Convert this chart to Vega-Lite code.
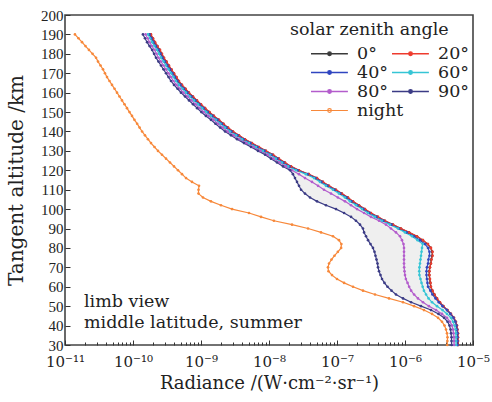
{
  "$schema": "https://vega.github.io/schema/vega-lite/v6.json",
  "width": 408,
  "height": 330,
  "autosize": {"type": "none"},
  "padding": {"left": 65, "top": 15, "right": 19, "bottom": 57},
  "background": "white",
  "config": {
    "view": {"stroke": "#444", "strokeWidth": 1.6},
    "axis": {"grid": false, "domain": false, "tickColor": "#333", "labelColor": "#222", "titleColor": "#222", "labelFont": "Liberation Serif", "labelFontSize": 15, "titleFont": "DejaVu Serif", "titleFontWeight": "normal"},
    "text": {"font": "DejaVu Serif"}
  },
  "data": {"values": [
    {"alt":190,"z0":1.82e-10,"z20":1.84e-10,"z40":1.75e-10,"z60":1.66e-10,"z80":1.53e-10,"z90":1.40e-10,"night":1.40e-11},
    {"alt":188,"z0":1.95e-10,"z20":1.97e-10,"z40":1.87e-10,"z60":1.78e-10,"z80":1.64e-10,"z90":1.50e-10,"night":1.58e-11},
    {"alt":186,"z0":2.09e-10,"z20":2.11e-10,"z40":2.00e-10,"z60":1.91e-10,"z80":1.75e-10,"z90":1.61e-10,"night":1.78e-11},
    {"alt":184,"z0":2.27e-10,"z20":2.29e-10,"z40":2.18e-10,"z60":2.07e-10,"z80":1.90e-10,"z90":1.75e-10,"night":2.00e-11},
    {"alt":182,"z0":2.47e-10,"z20":2.50e-10,"z40":2.38e-10,"z60":2.26e-10,"z80":2.08e-10,"z90":1.91e-10,"night":2.25e-11},
    {"alt":180,"z0":2.64e-10,"z20":2.67e-10,"z40":2.54e-10,"z60":2.41e-10,"z80":2.22e-10,"z90":2.04e-10,"night":2.54e-11},
    {"alt":178,"z0":2.83e-10,"z20":2.86e-10,"z40":2.72e-10,"z60":2.58e-10,"z80":2.37e-10,"z90":2.18e-10,"night":2.86e-11},
    {"alt":176,"z0":3.08e-10,"z20":3.11e-10,"z40":2.95e-10,"z60":2.81e-10,"z80":2.58e-10,"z90":2.37e-10,"night":3.06e-11},
    {"alt":174,"z0":3.35e-10,"z20":3.38e-10,"z40":3.21e-10,"z60":3.05e-10,"z80":2.81e-10,"z90":2.58e-10,"night":3.33e-11},
    {"alt":172,"z0":3.64e-10,"z20":3.68e-10,"z40":3.50e-10,"z60":3.32e-10,"z80":3.05e-10,"z90":2.81e-10,"night":3.62e-11},
    {"alt":170,"z0":3.97e-10,"z20":4.01e-10,"z40":3.81e-10,"z60":3.62e-10,"z80":3.33e-10,"z90":3.06e-10,"night":3.87e-11},
    {"alt":168,"z0":4.32e-10,"z20":4.36e-10,"z40":4.14e-10,"z60":3.94e-10,"z80":3.62e-10,"z90":3.33e-10,"night":4.15e-11},
    {"alt":166,"z0":4.70e-10,"z20":4.75e-10,"z40":4.51e-10,"z60":4.29e-10,"z80":3.94e-10,"z90":3.62e-10,"night":4.51e-11},
    {"alt":164,"z0":5.21e-10,"z20":5.26e-10,"z40":5.00e-10,"z60":4.75e-10,"z80":4.37e-10,"z90":4.01e-10,"night":4.91e-11},
    {"alt":162,"z0":5.86e-10,"z20":5.92e-10,"z40":5.62e-10,"z60":5.35e-10,"z80":4.91e-10,"z90":4.52e-10,"night":5.35e-11},
    {"alt":160,"z0":6.59e-10,"z20":6.66e-10,"z40":6.33e-10,"z60":6.01e-10,"z80":5.53e-10,"z90":5.08e-10,"night":5.82e-11},
    {"alt":158,"z0":7.55e-10,"z20":7.63e-10,"z40":7.25e-10,"z60":6.89e-10,"z80":6.33e-10,"z90":5.82e-10,"night":6.33e-11},
    {"alt":156,"z0":8.64e-10,"z20":8.73e-10,"z40":8.29e-10,"z60":7.88e-10,"z80":7.25e-10,"z90":6.66e-10,"night":6.89e-11},
    {"alt":154,"z0":9.90e-10,"z20":1.00e-9,"z40":9.50e-10,"z60":9.03e-10,"z80":8.30e-10,"z90":7.63e-10,"night":7.50e-11},
    {"alt":152,"z0":1.14e-9,"z20":1.15e-9,"z40":1.09e-9,"z60":1.04e-9,"z80":9.55e-10,"z90":8.77e-10,"night":8.16e-11},
    {"alt":150,"z0":1.32e-9,"z20":1.33e-9,"z40":1.26e-9,"z60":1.20e-9,"z80":1.10e-9,"z90":1.01e-9,"night":8.88e-11},
    {"alt":148,"z0":1.53e-9,"z20":1.55e-9,"z40":1.47e-9,"z60":1.40e-9,"z80":1.29e-9,"z90":1.18e-9,"night":9.67e-11},
    {"alt":146,"z0":1.82e-9,"z20":1.84e-9,"z40":1.75e-9,"z60":1.66e-9,"z80":1.53e-9,"z90":1.40e-9,"night":1.05e-10},
    {"alt":144,"z0":2.12e-9,"z20":2.14e-9,"z40":2.03e-9,"z60":1.93e-9,"z80":1.78e-9,"z90":1.63e-9,"night":1.15e-10},
    {"alt":142,"z0":2.47e-9,"z20":2.50e-9,"z40":2.38e-9,"z60":2.26e-9,"z80":2.08e-9,"z90":1.91e-9,"night":1.25e-10},
    {"alt":140,"z0":2.93e-9,"z20":2.96e-9,"z40":2.81e-9,"z60":2.67e-9,"z80":2.46e-9,"z90":2.26e-9,"night":1.36e-10},
    {"alt":138,"z0":3.58e-9,"z20":3.62e-9,"z40":3.44e-9,"z60":3.27e-9,"z80":3.00e-9,"z90":2.76e-9,"night":1.50e-10},
    {"alt":136,"z0":4.40e-9,"z20":4.44e-9,"z40":4.22e-9,"z60":4.01e-9,"z80":3.69e-9,"z90":3.39e-9,"night":1.66e-10},
    {"alt":134,"z0":5.56e-9,"z20":5.62e-9,"z40":5.34e-9,"z60":5.07e-9,"z80":4.66e-9,"z90":4.29e-9,"night":1.84e-10},
    {"alt":132,"z0":7.06e-9,"z20":7.13e-9,"z40":6.77e-9,"z60":6.44e-9,"z80":5.92e-9,"z90":5.44e-9,"night":2.07e-10},
    {"alt":130,"z0":8.94e-9,"z20":9.03e-9,"z40":8.58e-9,"z60":8.15e-9,"z80":7.49e-9,"z90":6.89e-9,"night":2.33e-10},
    {"alt":128,"z0":1.14e-8,"z20":1.15e-8,"z40":1.09e-8,"z60":1.04e-8,"z80":9.55e-9,"z90":8.77e-9,"night":2.67e-10},
    {"alt":126,"z0":1.39e-8,"z20":1.40e-8,"z40":1.33e-8,"z60":1.26e-8,"z80":1.16e-8,"z90":1.07e-8,"night":3.06e-10},
    {"alt":124,"z0":1.70e-8,"z20":1.72e-8,"z40":1.63e-8,"z60":1.55e-8,"z80":1.43e-8,"z90":1.31e-8,"night":3.50e-10},
    {"alt":122,"z0":2.09e-8,"z20":2.11e-8,"z40":2.00e-8,"z60":1.91e-8,"z80":1.78e-8,"z90":1.61e-8,"night":4.01e-10},
    {"alt":120,"z0":2.73e-8,"z20":2.76e-8,"z40":2.62e-8,"z60":2.49e-8,"z80":2.18e-8,"z90":2.04e-8,"night":4.59e-10},
    {"alt":118,"z0":3.83e-8,"z20":3.87e-8,"z40":3.68e-8,"z60":3.49e-8,"z80":2.76e-8,"z90":2.25e-8,"night":5.26e-10},
    {"alt":116,"z0":5.03e-8,"z20":5.08e-8,"z40":4.83e-8,"z60":4.59e-8,"z80":3.38e-8,"z90":2.41e-8,"night":6.02e-10},
    {"alt":114,"z0":6.16e-8,"z20":6.22e-8,"z40":5.91e-8,"z60":5.62e-8,"z80":4.29e-8,"z90":2.58e-8,"night":7.37e-10},
    {"alt":112,"z0":7.55e-8,"z20":7.63e-8,"z40":7.25e-8,"z60":6.89e-8,"z80":5.26e-8,"z90":2.76e-8,"night":9.35e-10},
    {"alt":110,"z0":9.57e-8,"z20":9.67e-8,"z40":9.19e-8,"z60":8.73e-8,"z80":6.44e-8,"z90":2.96e-8,"night":9.19e-10},
    {"alt":108,"z0":1.17e-7,"z20":1.18e-7,"z40":1.12e-7,"z60":1.07e-7,"z80":8.16e-8,"z90":3.38e-8,"night":9.19e-10},
    {"alt":106,"z0":1.44e-7,"z20":1.45e-7,"z40":1.38e-7,"z60":1.31e-7,"z80":1.03e-7,"z90":4.01e-8,"night":1.07e-9},
    {"alt":104,"z0":1.70e-7,"z20":1.72e-7,"z40":1.63e-7,"z60":1.55e-7,"z80":1.31e-7,"z90":5.08e-8,"night":1.40e-9},
    {"alt":102,"z0":2.09e-7,"z20":2.11e-7,"z40":2.00e-7,"z60":1.91e-7,"z80":1.61e-7,"z90":6.89e-8,"night":1.97e-9},
    {"alt":100,"z0":2.55e-7,"z20":2.58e-7,"z40":2.45e-7,"z60":2.33e-7,"z80":1.97e-7,"z90":9.67e-8,"night":2.86e-9},
    {"alt":98,"z0":3.13e-7,"z20":3.16e-7,"z40":3.00e-7,"z60":2.85e-7,"z80":2.50e-7,"z90":1.27e-7,"night":5.08e-9},
    {"alt":96,"z0":3.97e-7,"z20":4.01e-7,"z40":3.81e-7,"z60":3.62e-7,"z80":3.16e-7,"z90":1.61e-7,"night":7.63e-9},
    {"alt":94,"z0":5.03e-7,"z20":5.08e-7,"z40":4.83e-7,"z60":4.59e-7,"z80":4.15e-7,"z90":1.90e-7,"night":1.18e-8},
    {"alt":92,"z0":6.59e-7,"z20":6.66e-7,"z40":6.33e-7,"z60":6.01e-7,"z80":5.26e-7,"z90":2.18e-7,"night":2.18e-8},
    {"alt":90,"z0":8.64e-7,"z20":8.73e-7,"z40":8.12e-7,"z60":7.88e-7,"z80":6.22e-7,"z90":2.41e-7,"night":3.75e-8},
    {"alt":88,"z0":1.14e-6,"z20":1.15e-6,"z40":1.06e-6,"z60":1.00e-6,"z80":7.37e-7,"z90":2.50e-7,"night":5.82e-8},
    {"alt":86,"z0":1.49e-6,"z20":1.50e-6,"z40":1.35e-6,"z60":1.27e-6,"z80":8.44e-7,"z90":2.67e-7,"night":8.73e-8},
    {"alt":84,"z0":1.82e-6,"z20":1.84e-6,"z40":1.66e-6,"z60":1.53e-6,"z80":9.03e-7,"z90":2.86e-7,"night":1.07e-7},
    {"alt":82,"z0":2.16e-6,"z20":2.18e-6,"z40":1.97e-6,"z60":1.82e-6,"z80":9.51e-7,"z90":3.11e-7,"night":1.16e-7},
    {"alt":80,"z0":2.39e-6,"z20":2.41e-6,"z40":2.18e-6,"z60":1.78e-6,"z80":9.67e-7,"z90":3.38e-7,"night":1.15e-7},
    {"alt":78,"z0":2.51e-6,"z20":2.54e-6,"z40":2.29e-6,"z60":1.75e-6,"z80":9.67e-7,"z90":3.56e-7,"night":1.03e-7},
    {"alt":76,"z0":2.51e-6,"z20":2.54e-6,"z40":2.29e-6,"z60":1.72e-6,"z80":9.67e-7,"z90":3.68e-7,"night":9.19e-8},
    {"alt":74,"z0":2.43e-6,"z20":2.45e-6,"z40":2.21e-6,"z60":1.69e-6,"z80":9.67e-7,"z90":3.81e-7,"night":8.30e-8},
    {"alt":72,"z0":2.39e-6,"z20":2.41e-6,"z40":2.18e-6,"z60":1.66e-6,"z80":9.67e-7,"z90":3.94e-7,"night":7.63e-8},
    {"alt":70,"z0":2.31e-6,"z20":2.33e-6,"z40":2.10e-6,"z60":1.63e-6,"z80":9.72e-7,"z90":4.01e-7,"night":7.37e-8},
    {"alt":68,"z0":2.27e-6,"z20":2.29e-6,"z40":2.07e-6,"z60":1.62e-6,"z80":9.83e-7,"z90":4.15e-7,"night":7.50e-8},
    {"alt":66,"z0":2.27e-6,"z20":2.29e-6,"z40":2.07e-6,"z60":1.63e-6,"z80":1.00e-6,"z90":4.36e-7,"night":8.44e-8},
    {"alt":64,"z0":2.31e-6,"z20":2.33e-6,"z40":2.10e-6,"z60":1.69e-6,"z80":1.03e-6,"z90":4.59e-7,"night":1.00e-7},
    {"alt":62,"z0":2.35e-6,"z20":2.37e-6,"z40":2.14e-6,"z60":1.75e-6,"z80":1.09e-6,"z90":4.99e-7,"night":1.27e-7},
    {"alt":60,"z0":2.39e-6,"z20":2.41e-6,"z40":2.18e-6,"z60":1.82e-6,"z80":1.15e-6,"z90":5.53e-7,"night":1.72e-7},
    {"alt":58,"z0":2.51e-6,"z20":2.54e-6,"z40":2.36e-6,"z60":1.90e-6,"z80":1.23e-6,"z90":6.33e-7,"night":2.41e-7},
    {"alt":56,"z0":2.69e-6,"z20":2.72e-6,"z40":2.53e-6,"z60":2.04e-6,"z80":1.36e-6,"z90":7.37e-7,"night":3.62e-7},
    {"alt":54,"z0":2.93e-6,"z20":2.96e-6,"z40":2.81e-6,"z60":2.22e-6,"z80":1.55e-6,"z90":9.35e-7,"night":5.82e-7},
    {"alt":52,"z0":3.24e-6,"z20":3.27e-6,"z40":3.14e-6,"z60":2.50e-6,"z80":1.84e-6,"z90":1.23e-6,"night":9.35e-7},
    {"alt":50,"z0":3.64e-6,"z20":3.68e-6,"z40":3.57e-6,"z60":2.96e-6,"z80":2.25e-6,"z90":1.72e-6,"night":1.36e-6},
    {"alt":48,"z0":4.18e-6,"z20":4.22e-6,"z40":4.14e-6,"z60":3.56e-6,"z80":2.86e-6,"z90":2.41e-6,"night":1.90e-6},
    {"alt":46,"z0":4.70e-6,"z20":4.75e-6,"z40":4.67e-6,"z60":4.15e-6,"z80":3.50e-6,"z90":3.11e-6,"night":2.50e-6},
    {"alt":44,"z0":5.21e-6,"z20":5.26e-6,"z40":5.17e-6,"z60":4.75e-6,"z80":4.15e-6,"z90":3.75e-6,"night":3.06e-6},
    {"alt":42,"z0":5.56e-6,"z20":5.62e-6,"z40":5.52e-6,"z60":5.08e-6,"z80":4.59e-6,"z90":4.22e-6,"night":3.50e-6},
    {"alt":40,"z0":5.76e-6,"z20":5.82e-6,"z40":5.72e-6,"z60":5.35e-6,"z80":4.91e-6,"z90":4.51e-6,"night":3.81e-6},
    {"alt":38,"z0":5.86e-6,"z20":5.92e-6,"z40":5.82e-6,"z60":5.53e-6,"z80":5.08e-6,"z90":4.67e-6,"night":4.01e-6},
    {"alt":36,"z0":5.96e-6,"z20":6.02e-6,"z40":5.92e-6,"z60":5.62e-6,"z80":5.17e-6,"z90":4.75e-6,"night":4.15e-6},
    {"alt":34,"z0":5.96e-6,"z20":6.02e-6,"z40":5.92e-6,"z60":5.62e-6,"z80":5.26e-6,"z90":4.83e-6,"night":4.22e-6},
    {"alt":32,"z0":5.98e-6,"z20":6.04e-6,"z40":5.94e-6,"z60":5.64e-6,"z80":5.26e-6,"z90":4.83e-6,"night":4.20e-6},
    {"alt":30,"z0":5.98e-6,"z20":6.04e-6,"z40":5.94e-6,"z60":5.64e-6,"z80":5.28e-6,"z90":4.85e-6,"night":4.18e-6}
  ]},
  "encoding": {
    "y": {
      "field": "alt", "type": "quantitative",
      "scale": {"domain": [30, 200], "nice": false, "zero": false},
      "axis": {
        "title": "Tangent altitude /km", "titleFontSize": 20, "titlePadding": 14,
        "values": [30,40,50,60,70,80,90,100,110,120,130,140,150,160,170,180,190,200],
        "tickSize": -5, "labelPadding": 7, "labelOverlap": false, "labelFlush": false
      }
    }
  },
  "layer": [
    {
      "transform": [{"filter": "datum.alt <= 120"}],
      "mark": {"type": "area", "orient": "horizontal", "color": "#efefef", "opacity": 1},
      "encoding": {
        "x": {
          "field": "z90", "type": "quantitative",
          "scale": {"type": "log", "domain": [1e-11, 1e-5], "nice": false},
          "axis": {
            "orient": "bottom", "title": null, "labels": false, "tickSize": -3,
            "values": [2e-11,3e-11,4e-11,5e-11,6e-11,7e-11,8e-11,9e-11,2e-10,3e-10,4e-10,5e-10,6e-10,7e-10,8e-10,9e-10,2e-9,3e-9,4e-9,5e-9,6e-9,7e-9,8e-9,9e-9,2e-8,3e-8,4e-8,5e-8,6e-8,7e-8,8e-8,9e-8,2e-7,3e-7,4e-7,5e-7,6e-7,7e-7,8e-7,9e-7,2e-6,3e-6,4e-6,5e-6,6e-6,7e-6,8e-6,9e-6]
          }
        },
        "x2": {"field": "z20"}
      }
    },
    {
      "transform": [{"fold": ["z0","z20","z40","z60","z80","z90"], "as": ["series", "rad"]}],
      "mark": {"type": "line", "strokeWidth": 1.2, "point": {"filled": true, "size": 7}},
      "encoding": {
        "x": {
          "field": "rad", "type": "quantitative",
          "scale": {"type": "log", "domain": [1e-11, 1e-5], "nice": false},
          "axis": {
            "orient": "bottom", "title": "Radiance /(W·cm⁻²·sr⁻¹)", "titleFontSize": 18, "titlePadding": 5,
            "values": [1e-11,1e-10,1e-9,1e-8,1e-7,1e-6,1e-5],
            "labelExpr": "datum.value < 3e-11 ? '10⁻¹¹' : datum.value < 3e-10 ? '10⁻¹⁰' : datum.value < 3e-9 ? '10⁻⁹' : datum.value < 3e-8 ? '10⁻⁸' : datum.value < 3e-7 ? '10⁻⁷' : datum.value < 3e-6 ? '10⁻⁶' : '10⁻⁵'",
            "tickSize": -5, "labelPadding": 14, "labelOverlap": false, "labelFlush": false, "labelFont": "DejaVu Serif", "labelFontSize": 15
          }
        },
        "order": {"field": "alt", "type": "quantitative"},
        "color": {
          "field": "series", "type": "nominal",
          "scale": {"domain": ["z0","z40","z80","z20","z60","z90"], "range": ["#3a3a3a","#2f45c0","#b35ccc","#ee3b2e","#35c5d5","#3b3b85"]},
          "legend": {
            "title": null, "orient": "none", "legendX": 245, "legendY": 28.5,
            "columns": 2, "columnPadding": 0, "rowPadding": 0, "padding": 0,
            "labelFont": "DejaVu Serif", "labelFontSize": 17.5, "labelColor": "#222", "labelOffset": 27,
            "symbolType": "M-1,0H3.1M0.86,0A0.2,0.2,0,1,0,1.26,0A0.2,0.2,0,1,0,0.86,0",
            "symbolSize": 324, "symbolStrokeWidth": 1.3, "symbolOffset": 0,
            "labelExpr": "datum.label == 'z0' ? '0°  ' : replace(datum.label, 'z', '') + '°'"
          }
        }
      }
    },
    {
      "transform": [{"fold": ["night"], "as": ["series", "rad"]}],
      "mark": {"type": "line", "color": "#f7883a"},
      "encoding": {
        "x": {"field": "rad", "type": "quantitative", "scale": {"type": "log", "domain": [1e-11, 1e-5], "nice": false}, "axis": null},
        "order": {"field": "alt", "type": "quantitative"},
        "strokeWidth": {
          "field": "series", "type": "nominal",
          "scale": {"type": "ordinal", "domain": ["night"], "range": [1.2]},
          "legend": {
            "title": null, "orient": "none", "legendX": 245, "legendY": 85.5, "padding": 0,
            "labelFont": "DejaVu Serif", "labelFontSize": 17.5, "labelColor": "#222", "labelOffset": 27,
            "symbolType": "M-1,0H3.1M0.86,0A0.2,0.2,0,1,0,1.26,0A0.2,0.2,0,1,0,0.86,0",
            "symbolSize": 324, "symbolOffset": 0, "symbolStrokeColor": "#f7883a", "symbolFillColor": "transparent"
          }
        }
      }
    },
    {
      "transform": [{"fold": ["night"], "as": ["series", "rad"]}],
      "mark": {"type": "point", "filled": true, "size": 7, "color": "#f7883a", "opacity": 1},
      "encoding": {
        "x": {"field": "rad", "type": "quantitative", "scale": {"type": "log", "domain": [1e-11, 1e-5], "nice": false}, "axis": null}
      }
    },
    {
      "data": {"values": [
        {"rad": 1.9e-11, "alt": 52, "label": "limb view"},
        {"rad": 1.9e-11, "alt": 41.3, "label": "middle latitude, summer"},
        {"rad": 2.04e-8, "alt": 192.3, "label": "solar zenith angle"}
      ]},
      "mark": {"type": "text", "align": "left", "baseline": "middle", "fontSize": 17.5, "color": "#222"},
      "encoding": {
        "x": {"field": "rad", "type": "quantitative", "scale": {"type": "log", "domain": [1e-11, 1e-5], "nice": false}, "axis": null},
        "text": {"field": "label"}
      }
    }
  ],
  "resolve": {"axis": {"x": "independent"}}
}
